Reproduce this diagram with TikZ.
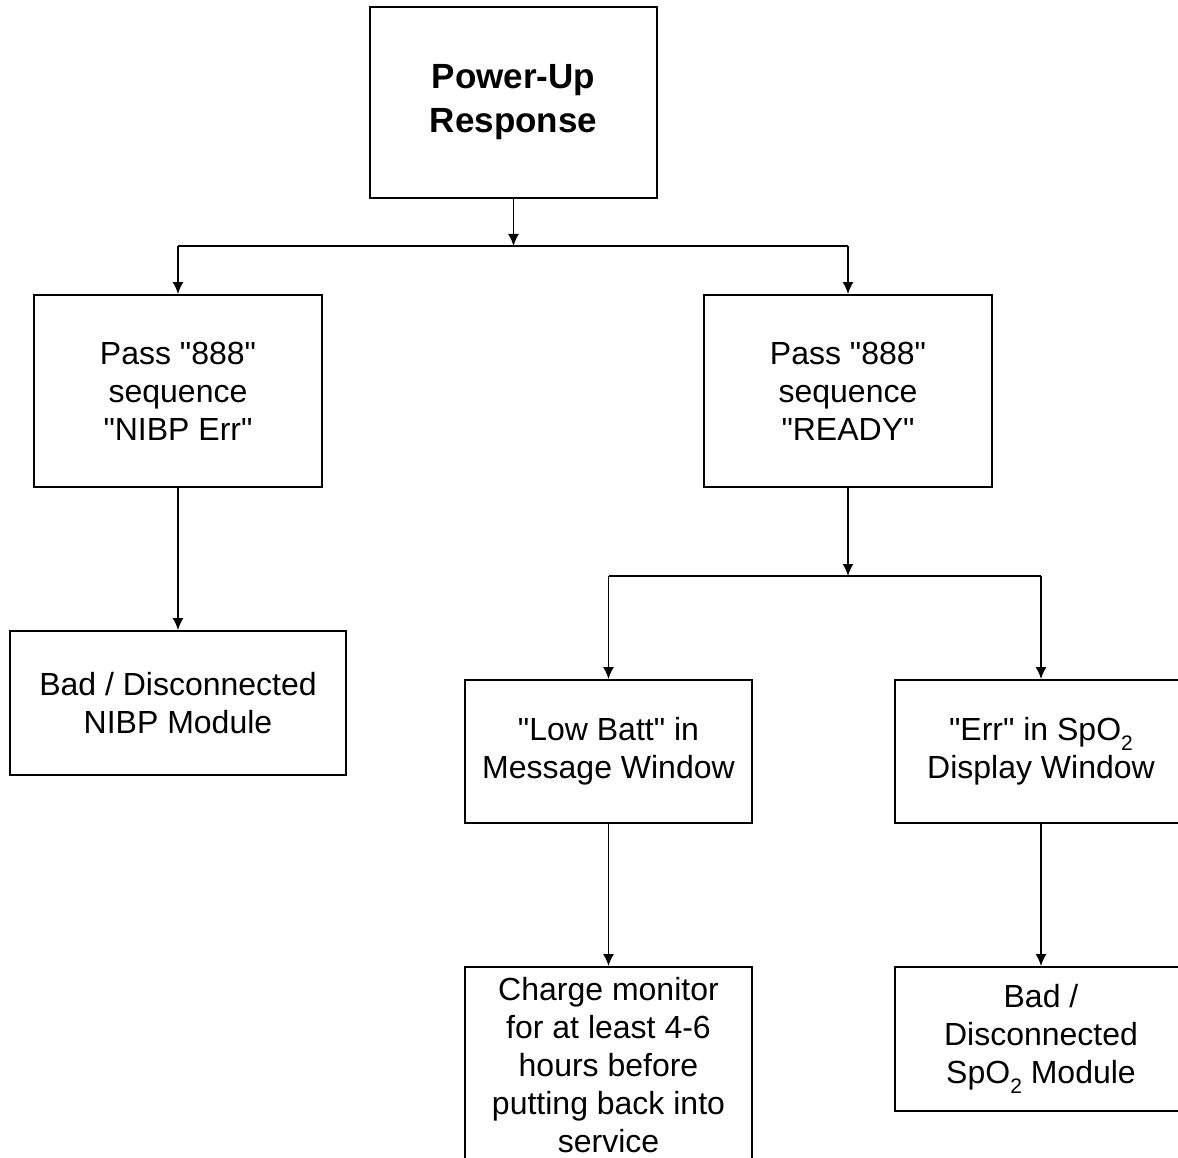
\documentclass[tikz,border=0pt]{standalone}
\usepackage{fontspec}
\setmainfont{Liberation Sans}[Ligatures=TeXOff]
\usetikzlibrary{arrows.meta}
\newcommand\subtwo{\raisebox{-10pt}{\fontsize{21}{21}\selectfont 2}}
\newcommand\dq{\char34\relax}
\begin{document}
\begin{tikzpicture}[x=1pt,y=-1pt,
  box/.style={draw, line width=1.8pt, inner sep=0pt, align=center, font=\fontsize{32}{38}\selectfont},
  conn/.style={line width=1.8pt},
  arr/.style={conn, -{Latex[length=12pt,width=11pt]}}]
\useasboundingbox[fill=white] (0,0) rectangle (1178,1158);
\node[box, minimum width=287pt, minimum height=191pt, font=\bfseries\fontsize{35}{44}\selectfont] (top) at (513.5,102.5) {Power-Up\\Response};
\node[box, minimum width=288pt, minimum height=192pt] (L1) at (178,391) {Pass \dq888\dq\\sequence\\\dq NIBP Err\dq};
\node[box, minimum width=288pt, minimum height=192pt] (R1) at (848,391) {Pass \dq888\dq\\sequence\\\dq READY\dq};
\node[box, minimum width=336pt, minimum height=144pt] (L2) at (178,703) {Bad / Disconnected\\NIBP Module};
\node[box, minimum width=287pt, minimum height=143pt] (B1) at (608.5,751.5) {\dq Low Batt\dq{} in\\Message Window};
\node[box, minimum width=292pt, minimum height=143pt] (B2) at (1041,751.5) {\dq Err\dq{} in SpO\subtwo\\Display Window};
\node[box, minimum width=287pt, minimum height=196pt] (C1) at (608.5,1065) {Charge monitor\\for at least 4-6\\hours before\\putting back into\\service};
\node[box, minimum width=292pt, minimum height=144pt] (D1) at (1041,1039) {Bad /\\Disconnected\\SpO\subtwo{} Module};
\coordinate (j1) at (513.5,246);
\coordinate (j1l) at (L1 |- j1);
\coordinate (j1r) at (R1 |- j1);
\coordinate (j2) at (848,576);
\coordinate (j2l) at (B1 |- j2);
\coordinate (j2r) at (B2 |- j2);
\draw[arr] (top) -- (j1);
\draw[conn] (j1l) -- (j1r);
\draw[arr] (j1l) -- (L1);
\draw[arr] (j1r) -- (R1);
\draw[arr] (L1) -- (L2);
\draw[arr] (R1) -- (j2);
\draw[conn] (j2l) -- (j2r);
\draw[arr] (j2l) -- (B1);
\draw[arr] (j2r) -- (B2);
\draw[arr] (B1) -- (C1);
\draw[arr] (B2) -- (D1);
\end{tikzpicture}
\end{document}
